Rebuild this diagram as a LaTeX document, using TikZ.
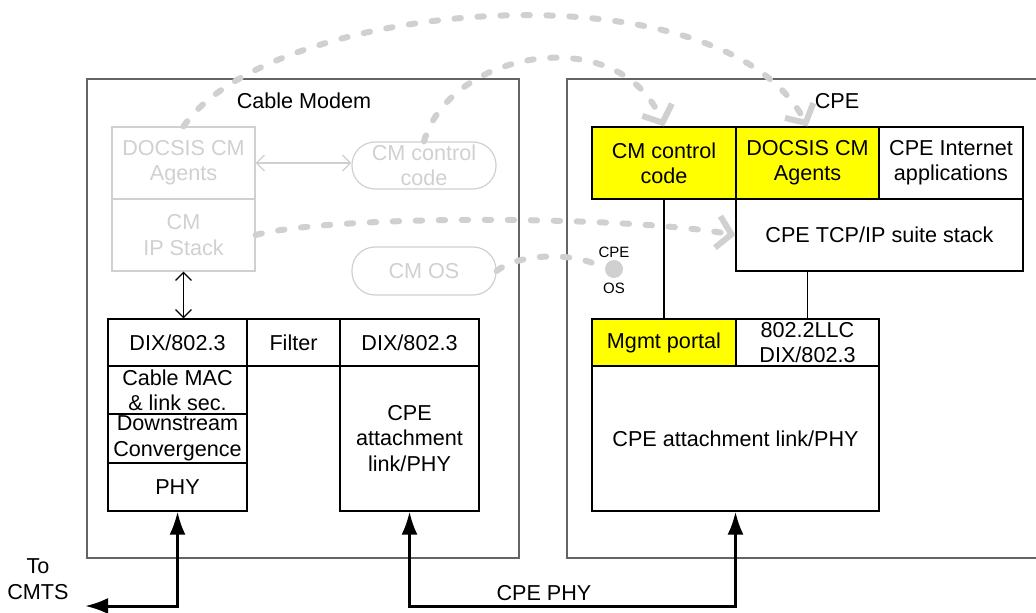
\documentclass[tikz,border=0pt]{standalone}
\usepackage{fontspec}
\setmainfont{Liberation Sans}
\usepackage{tikz}
\usetikzlibrary{positioning,arrows.meta}
\definecolor{ghost}{RGB}{208,208,208}
\definecolor{frame}{RGB}{100,100,100}
\definecolor{hilite}{RGB}{255,255,0}
\newcommand{\txt}{\fontsize{10.8}{12.7}\selectfont}
\tikzstyle{layer} = [draw, line width=0.6pt, inner sep=0pt, align=center, font=\txt]
\tikzstyle{ghostbox} = [draw=ghost, text=ghost, line width=0.6pt, inner sep=0pt, align=center, font=\txt]
\tikzstyle{pill} = [ghostbox, rounded corners=11.5pt]
\tikzstyle{lbl} = [inner sep=0pt, align=center, font=\txt]
\tikzstyle{tiny} = [inner sep=0pt, font=\fontsize{7.5}{9}\selectfont]
\tikzstyle{dashlink} = [ghost, line width=3pt, line cap=round, dash pattern=on 3.2pt off 8.3pt]
\tikzstyle{dashhead} = [-{Straight Barb[length=7pt,width=16pt]}]
\tikzstyle{phyline} = [line width=1.5pt, {Latex[length=11.5pt,width=8pt]}-{Latex[length=11.5pt,width=8pt]}]
\tikzstyle{thinboth} = [line width=0.6pt, {Straight Barb[length=4pt,width=8pt]}-{Straight Barb[length=4pt,width=8pt]}]

\begin{document}
\begin{tikzpicture}[x=0.5pt,y=-0.5pt]
			\useasboundingbox (0,0) rectangle (1036,613);
			\node[draw=frame, line width=0.6pt, minimum width=216pt, minimum height=239.5pt] (modem) at (303,318.5) {};
			\draw[frame, line width=0.6pt] (1036,79) -| (567,558) -- (1036,558);
			\node[lbl] (modemlbl) at (304,101) {Cable Modem};
			\node[lbl] (cpelbl) at (837,101) {CPE};
			\node[ghostbox, minimum width=71.5pt, minimum height=36pt] (gAgents) at (183.5,163) {DOCSIS CM\\Agents};
			\node[ghostbox, minimum width=71.5pt, minimum height=36pt] (gIP) at (183.5,235) {CM\\IP Stack};
			\node[pill, minimum width=72pt, minimum height=23.5pt] (gCtrl) at (424,165.5) {CM control\\code};
			\node[pill, minimum width=72pt, minimum height=24pt] (gOS) at (424,271) {CM OS};
			\node[layer, minimum width=69.5pt, minimum height=23.5pt] (dixL) at (177.5,342.5) {DIX/802.3};
			\node[layer, minimum width=46.5pt, minimum height=23.5pt] (filter) at (293.5,342.5) {Filter};
			\node[layer, minimum width=69.5pt, minimum height=23.5pt] (dixR) at (409.5,342.5) {DIX/802.3};
			\node[layer, minimum width=69.5pt, minimum height=24pt] (mac) at (177.5,390) {Cable MAC\\\& link sec.};
			\node[layer, minimum width=69.5pt, minimum height=24.5pt] (conv) at (177.5,438.5) {Downstream\\Convergence};
			\node[layer, minimum width=69.5pt, minimum height=24pt] (phy) at (177.5,487) {PHY};
			\node[layer, minimum width=69.5pt, minimum height=72.5pt] (attL) at (409.5,438.5) {CPE\\attachment\\link/PHY};
			\node[layer, fill=hilite, minimum width=72pt, minimum height=36pt] (ctrl) at (664,163) {CM control\\code};
			\node[layer, fill=hilite, minimum width=71.5pt, minimum height=36pt] (agents) at (807.5,163) {DOCSIS CM\\Agents};
			\node[layer, minimum width=72pt, minimum height=36pt] (apps) at (951,163) {CPE Internet\\applications};
			\node[layer, minimum width=143.5pt, minimum height=36pt] (tcpip) at (879.5,235) {CPE TCP/IP suite stack};
			\node[layer, fill=hilite, minimum width=72pt, minimum height=23.5pt] (mgmt) at (664,342.5) {Mgmt portal};
			\node[layer, minimum width=71.5pt, minimum height=23.5pt] (llc) at (807.5,342.5) {802.2LLC\\DIX/802.3};
			\node[layer, minimum width=143.5pt, minimum height=72.5pt] (attR) at (735.5,438.5) {CPE attachment link/PHY};
			\node[circle, fill=ghost, inner sep=0pt, minimum size=9pt] (cpeos) at (614,269) {};
			\node[tiny, above=1pt of cpeos] (cpeostop) {CPE};
			\node[tiny, below=2pt of cpeos] (cpeosbot) {OS};
			\node[lbl] (cmtslbl) at (38,579) {To\\CMTS};
			\node[lbl] (phylbl) at (544,593) {CPE PHY};
			\coordinate (cmts) at (85,606);
			\draw[ghost, thinboth] (gAgents.east) -- (gAgents.east -| gCtrl.west);
			\draw[thinboth] (gIP.south) -- (gIP.south |- dixL.north);
			\draw[line width=0.6pt] (ctrl.south) -- (mgmt.north);
			\draw[line width=0.6pt] (agents.south |- tcpip.south) -- (llc.north);
			\draw[phyline] (phy.south) |- (cmts);
			\draw[phyline] (attL.south) -- ++(0,95) -| (attR.south);
			\draw[dashlink, dashhead] (gAgents.north) .. controls (270,0) and (720,-40) .. (agents.north);
			\draw[dashlink, dashhead] (gCtrl.north) .. controls (450,50) and (620,20) .. (ctrl.north);
			\draw[dashlink, dashhead] (gIP.east) .. controls (330,215) and (620,215) .. (tcpip.west);
			\draw[dashlink] (gOS.east) .. controls (520,252) and (580,252) .. (cpeos.west);
		\end{tikzpicture}
\end{document}
